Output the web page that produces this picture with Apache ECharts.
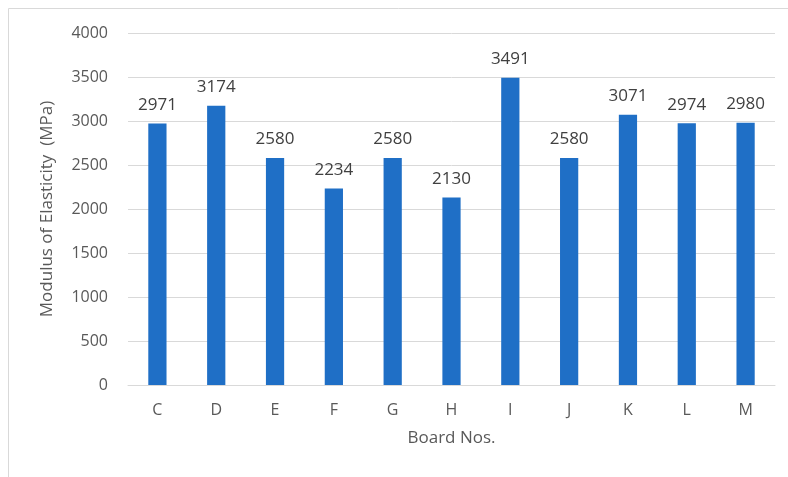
<!DOCTYPE html>
<html>
<head>
<meta charset="utf-8">
<script src="https://cdn.jsdelivr.net/npm/echarts@6/dist/echarts.min.js"></script>
<style>
  html, body { margin: 0; padding: 0; background: #fff; }
  #chart { width: 788px; height: 477px; }
</style>
</head>
<body>
<div id="chart"></div>
<script>
  const boards = ['C', 'D', 'E', 'F', 'G', 'H', 'I', 'J', 'K', 'L', 'M'];
  const moe = [2971, 3174, 2580, 2234, 2580, 2130, 3491, 2580, 3071, 2974, 2980];
  const yTicks = { min: 0, max: 4000, step: 500 };

  const font = 'Open Sans, Liberation Sans, sans-serif';
  const chart = echarts.init(document.getElementById('chart'));

  chart.setOption({
    animation: false,
    graphic: [{
      type: 'rect',
      shape: { x: 8.5, y: 8.5, width: 820, height: 520 },
      style: { fill: 'none', stroke: '#d9d9d9', lineWidth: 1 },
      silent: true
    }],
    grid: { left: 128, right: 13, top: 33, bottom: 92 },
    xAxis: {
      type: 'category',
      data: boards,
      name: 'Board Nos.',
      nameLocation: 'middle',
      nameGap: 45,
      nameTextStyle: { color: '#595959', fontSize: 17, fontFamily: font },
      axisLine: { lineStyle: { color: '#d9d9d9' } },
      axisTick: { show: false },
      axisLabel: { color: '#595959', fontSize: 16, fontFamily: font, margin: 17 }
    },
    yAxis: {
      type: 'value',
      min: yTicks.min,
      max: yTicks.max,
      interval: yTicks.step,
      name: 'Modulus of Elasticity  (MPa)',
      nameLocation: 'middle',
      nameGap: 72,
      nameTextStyle: { color: '#595959', fontSize: 17, fontFamily: font },
      axisLine: { show: false },
      axisTick: { show: false },
      axisLabel: {
        color: '#595959', fontSize: 16, fontFamily: font, margin: 20,
        formatter: (v) => String(v)
      },
      splitLine: { lineStyle: { color: '#d9d9d9' } }
    },
    series: [{
      type: 'bar',
      data: moe,
      barWidth: '31%',
      itemStyle: { color: '#1f6fc6' },
      label: {
        show: true,
        position: 'top',
        distance: 10,
        color: '#404040',
        fontSize: 17,
        fontFamily: font
      }
    }]
  });
</script>
</body>
</html>
